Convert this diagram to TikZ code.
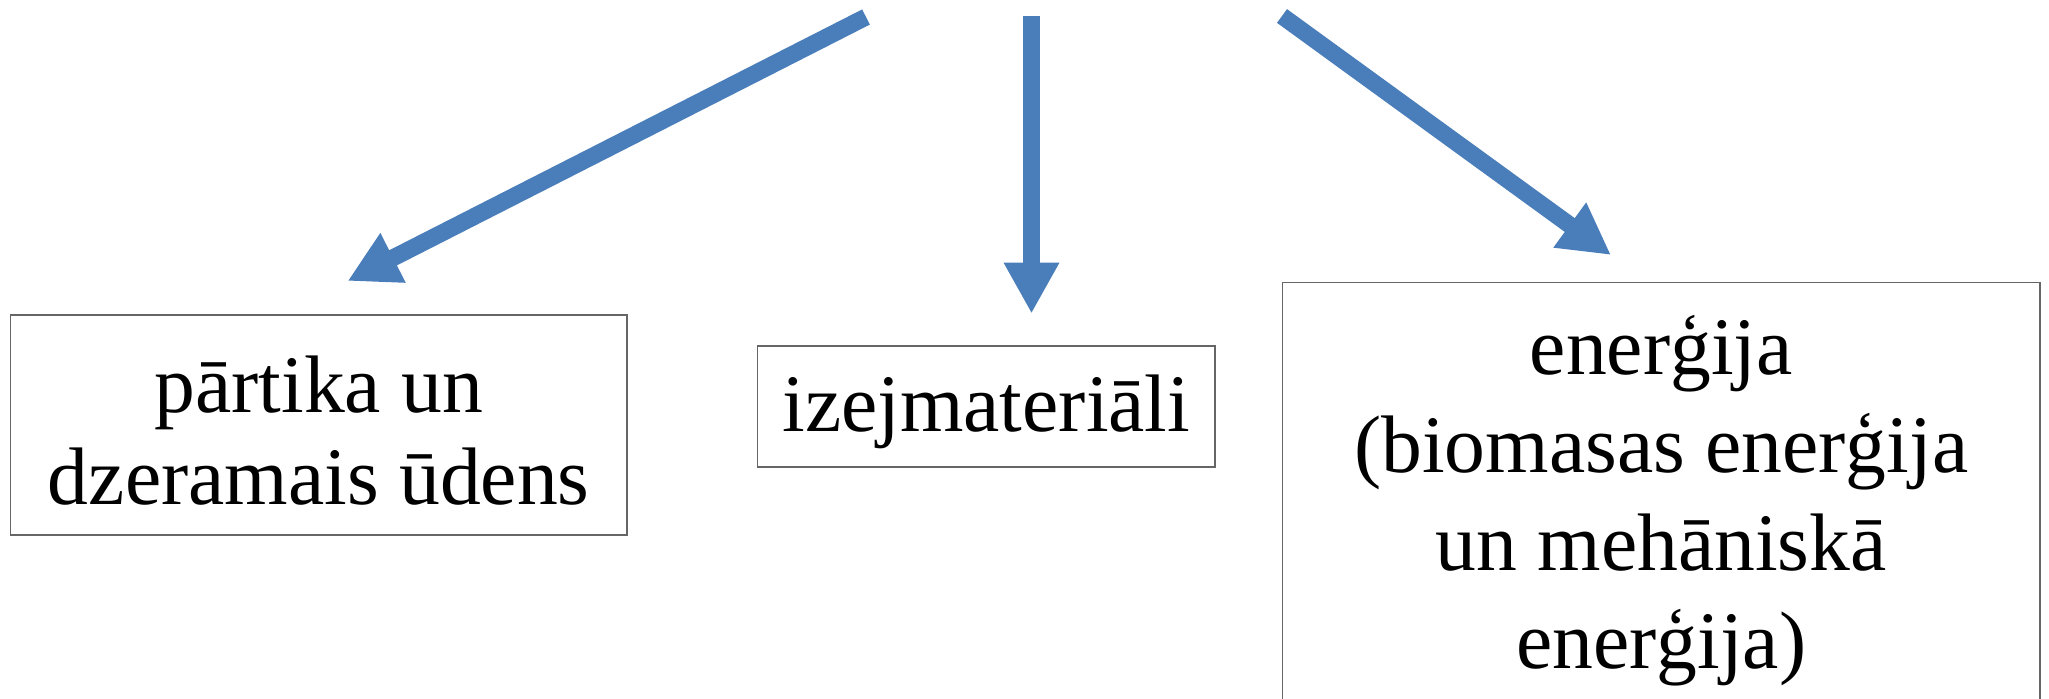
\documentclass[tikz,border=0pt]{standalone}
\usepackage{fontspec}
\setmainfont{Liberation Serif}
\usepackage{tikz}
\usetikzlibrary{arrows.meta,positioning}
\definecolor{arrowblue}{HTML}{4A7EBB}

\begin{document}
\begin{tikzpicture}
[x=0.5pt,y=-0.5pt,
box/.style={draw=black!60,line width=0.75pt,inner sep=0pt,align=center,font=\fontsize{40.8}{46}\selectfont},
bigarrow/.style={draw=arrowblue,line width=8.5pt,-{Triangle[length=25.5pt,width=26pt]}}]

\useasboundingbox (0,0) rectangle (2049,699);

\node[box,minimum width=308.25pt,minimum height=110pt,text height=79pt,text depth=0pt] (food) at (318.75,425) {pārtika un\\dzeramais ūdens};
\node[box,minimum width=228.75pt,minimum height=60.5pt,text height=34pt,text depth=9pt] (raw) at (986.25,406.5) {izejmateriāli};
\node[box,minimum width=378.75pt,minimum height=218.5pt,font=\fontsize{40.8}{49}\selectfont] (energy) at (1661.25,501) {enerģija\\(biomasas enerģija\\un mehāniskā\\enerģija)};

\coordinate (s1) at (866,17);
\coordinate (s2) at (1031.5,16);
\coordinate (s3) at (1282,16);

\coordinate (t1) at (347.6,281);
\coordinate (t2) at (1031.5,313.6);
\coordinate (t3) at (1611,255);

\draw [bigarrow] (s1) -- (t1);
\draw [bigarrow] (s2) -- (t2);
\draw [bigarrow] (s3) -- (t3);
\end{tikzpicture}
\end{document}
